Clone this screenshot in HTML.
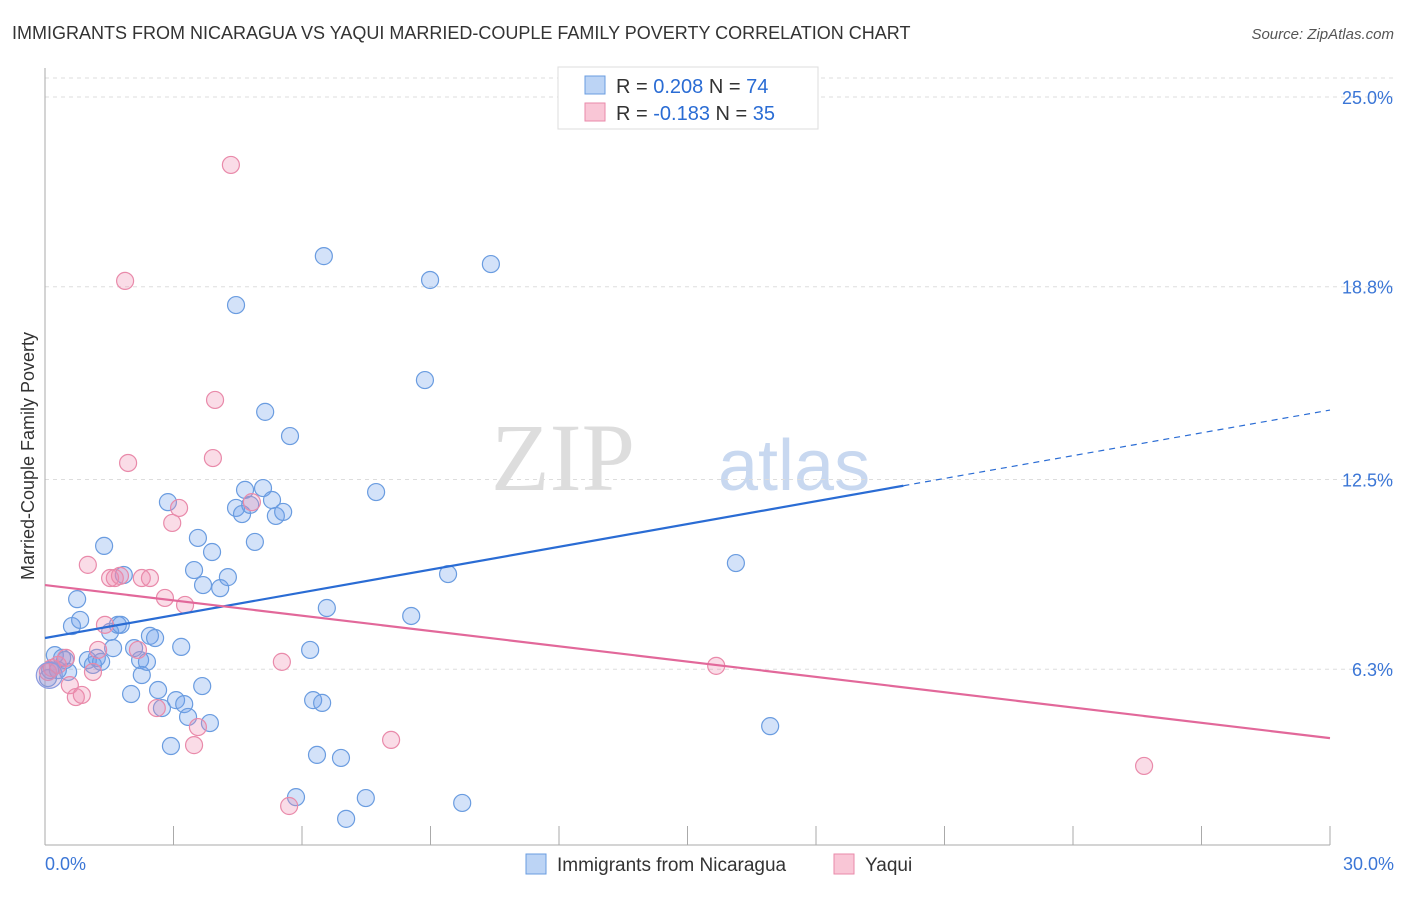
<!DOCTYPE html>
<html><head><meta charset="utf-8"><style>
body{margin:0;background:#fff;font-family:"Liberation Sans",sans-serif;}
svg text{font-family:"Liberation Sans",sans-serif;}
</style></head><body>
<svg id="chart" width="1406" height="892" viewBox="0 0 1406 892">
<text x="12" y="39" font-size="18" fill="#333">IMMIGRANTS FROM NICARAGUA VS YAQUI MARRIED-COUPLE FAMILY POVERTY CORRELATION CHART</text>
<text x="1394" y="39" font-size="15" fill="#555" text-anchor="end" font-style="italic">Source: ZipAtlas.com</text>
<g>
<text x="635" y="490" font-size="96" fill="#ddd" text-anchor="end" font-family="Liberation Serif" style="font-family:'Liberation Serif',serif">ZIP</text>
<text x="718" y="490" font-size="72" fill="#c8d8f0">atlas</text>
</g>
<g id="grid"></g>
<g id="axes"></g>
<g id="pts"></g>
<g id="lines"></g>
<text transform="translate(34,456) rotate(-90)" font-size="18" fill="#333" text-anchor="middle">Married-Couple Family Poverty</text>
<g>
<rect x="558" y="67" width="260" height="62" fill="#fff" stroke="#ddd"/>
<rect x="585" y="76" width="20" height="18" fill="#bcd4f5" stroke="#6a9ce0"/>
<rect x="585" y="103" width="20" height="18" fill="#f9c6d6" stroke="#e98aaa"/>
<text x="616" y="93" font-size="20" fill="#333">R = <tspan fill="#2a6cd4">0.208</tspan>   N = <tspan fill="#2a6cd4">74</tspan></text>
<text x="616" y="120" font-size="20" fill="#333">R = <tspan fill="#2a6cd4">-0.183</tspan>   N = <tspan fill="#2a6cd4">35</tspan></text>
</g>
<g>
<rect x="526" y="854" width="20" height="20" fill="#bcd4f5" stroke="#6a9ce0"/>
<text x="557" y="871" font-size="19" fill="#333">Immigrants from Nicaragua</text>
<rect x="834" y="854" width="20" height="20" fill="#f9c6d6" stroke="#e98aaa"/>
<text x="865" y="871" font-size="19" fill="#333">Yaqui</text>
</g>
</svg>
<script>
const yTicks=[25.0,18.8,12.5,6.3];
const yTickLabels=["25.0%","18.8%","12.5%","6.3%"];
const xLabels=["0.0%","30.0%"];
const blueX=[0.23,0.40,0.54,0.63,0.75,0.82,1.00,1.12,1.21,1.31,1.38,1.52,1.59,1.70,1.77,1.84,2.01,2.08,2.22,2.26,2.38,2.45,2.57,2.64,2.73,2.87,2.94,3.06,3.18,3.25,3.34,3.48,3.57,3.67,3.69,3.85,3.90,4.09,4.27,4.46,4.46,4.60,4.67,4.79,4.90,5.09,5.14,5.30,5.39,5.56,5.72,5.86,6.19,6.26,6.35,6.47,6.51,6.58,6.91,7.03,7.49,7.73,8.55,8.87,8.99,9.41,9.74,10.41,16.13,16.93,0.07,0.12,0.30,0.47];
const blueY=[6.76,6.67,6.21,7.71,8.59,7.91,6.60,6.44,6.67,6.54,10.33,7.52,6.99,7.75,7.75,9.38,5.49,6.99,6.60,6.11,6.54,7.39,7.32,5.62,5.03,11.76,3.79,5.29,7.03,5.16,4.74,9.54,10.59,5.75,9.05,4.54,10.13,8.95,9.31,18.20,11.57,11.37,12.16,11.67,10.46,12.22,14.71,11.83,11.31,11.44,13.92,2.12,6.93,5.29,3.50,5.20,19.80,8.30,3.40,1.41,2.09,12.09,8.04,15.75,19.02,9.41,1.93,19.54,9.77,4.44,6.01,6.27,6.27,6.60];
const pinkX=[0.07,0.16,0.30,0.49,0.58,0.72,0.86,1.00,1.12,1.24,1.40,1.52,1.63,1.75,1.87,1.94,2.17,2.26,2.45,2.61,2.80,2.97,3.13,3.27,3.48,3.57,3.92,3.97,4.34,4.83,5.53,5.70,8.08,15.67,25.66];
const pinkY=[6.21,6.34,6.44,6.67,5.78,5.39,5.46,9.71,6.21,6.93,7.75,9.28,9.28,9.35,18.99,13.04,6.93,9.28,9.28,5.03,8.63,11.08,11.57,8.40,3.82,4.41,13.20,15.10,22.78,11.76,6.54,1.83,3.99,6.41,3.14];
const blueTrend=[7.32,0.2483]; const blueSolidEnd=20.04;
const pinkTrend=[9.05,-0.1667];
const NS="http://www.w3.org/2000/svg";
const X=v=>45+v*42.833, Y=v=>862-v*30.6;
function mk(p,t,a){const e=document.createElementNS(NS,t);for(const k in a)e.setAttribute(k,a[k]);document.getElementById(p).appendChild(e);return e;}
yTicks.forEach((t,i)=>{
 const l=mk('grid','line',{x1:45,x2:1394,y1:Y(t),y2:Y(t),stroke:'#ddd','stroke-dasharray':'4,4'});
 
 
 const tx=mk('grid','text',{x:1393,y:Y(t)+7,'font-size':18,fill:'#3b76d6','text-anchor':'end'});tx.textContent=yTickLabels[i];
 
 
});
let g=mk('grid','line',{x1:45,x2:1394,y1:78,y2:78,stroke:'#ddd','stroke-dasharray':'4,4'});
let a=mk('axes','line',{x1:45,x2:45,y1:68,y2:845,stroke:'#aaa'});


a=mk('axes','line',{x1:45,x2:1330,y1:845,y2:845,stroke:'#aaa'});


for(let i=0;i<=10;i++){const t=mk('axes','line',{x1:X(i*3),x2:X(i*3),y1:826,y2:845,stroke:'#aaa'});
 
 }
[[0,'start',45],[1,'end',1394]].forEach(([i,an,x])=>{const t=mk('axes','text',{x:x,y:870,'font-size':18,fill:'#3b76d6','text-anchor':an});t.textContent=xLabels[i];
 
 });
blueX.forEach((v,i)=>{const c=mk('pts','circle',{cx:X(v),cy:Y(blueY[i]),r:8.5,fill:'rgba(110,160,235,0.3)',stroke:'#6a9ce0','stroke-width':1.2});
 
 });
pinkX.forEach((v,i)=>{const c=mk('pts','circle',{cx:X(v),cy:Y(pinkY[i]),r:8.5,fill:'rgba(240,140,175,0.3)',stroke:'#e98aaa','stroke-width':1.2});
 
 });
let big=mk('pts','circle',{cx:X(0.1),cy:Y(6.1),r:13,fill:'rgba(180,150,200,0.35)',stroke:'#8a9ce0','stroke-width':1.2});


let L=mk('lines','line',{x1:X(0),y1:Y(blueTrend[0]),x2:X(blueSolidEnd),y2:Y(blueTrend[0]+blueTrend[1]*blueSolidEnd),stroke:'#2a6cd4','stroke-width':2.2});


L=mk('lines','line',{x1:X(blueSolidEnd),y1:Y(blueTrend[0]+blueTrend[1]*blueSolidEnd),x2:X(30),y2:Y(blueTrend[0]+blueTrend[1]*30),stroke:'#2a6cd4','stroke-width':1.2,'stroke-dasharray':'6,5'});


L=mk('lines','line',{x1:X(0),y1:Y(pinkTrend[0]),x2:X(30),y2:Y(pinkTrend[0]+pinkTrend[1]*30),stroke:'#e2689a','stroke-width':2.2});


</script>
</body></html>
